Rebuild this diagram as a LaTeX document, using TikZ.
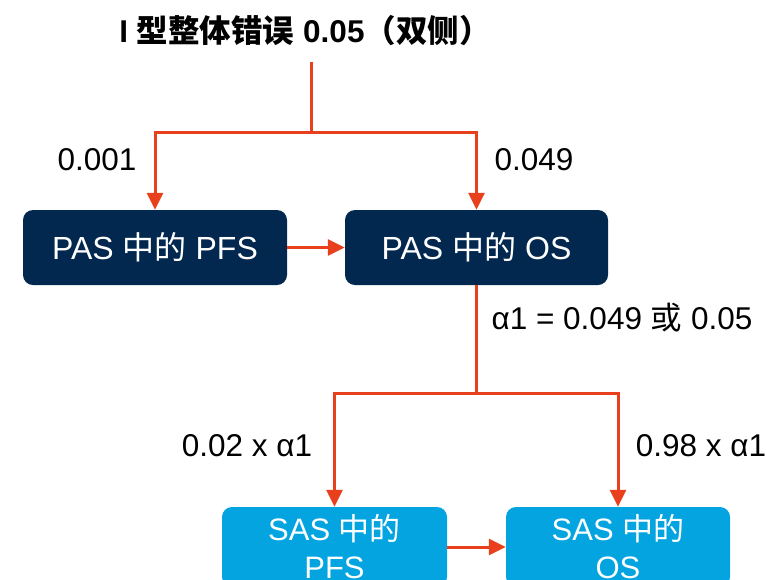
\documentclass[tikz,border=0pt]{standalone}
\usepackage{fontspec}
\setmainfont{Liberation Sans}
\newfontfamily\cjk{Noto Sans CJK SC}
\usetikzlibrary{arrows.meta}
\definecolor{navy}{HTML}{03284F}
\definecolor{lblue}{HTML}{03A4E0}
\definecolor{redline}{HTML}{E8401C}
\tikzset{
  darkbox/.style={draw=none, fill=navy, rounded corners=10pt, text=white, font=\fontsize{32}{36}\selectfont, inner sep=0pt},
  lightbox/.style={draw=none, fill=lblue, rounded corners=10pt, text=white, font=\fontsize{31}{38}\selectfont, inner sep=0pt, align=center},
  arr/.style={draw=redline, line width=3pt, -{Triangle[length=17pt,width=16pt]}},
  ln/.style={draw=redline, line width=3pt},
  lbl/.style={font=\fontsize{31.5}{36}\selectfont, inner sep=0pt}
}
\begin{document}
\begin{tikzpicture}[x=1pt,y=-1pt]
\clip (0,0) rectangle (767,579);
\useasboundingbox (0,0) rectangle (767,579);
\node[font=\fontsize{31.5}{36}\selectfont\bfseries, inner sep=0pt] (title) at (305,31) {I {\cjk\bfseries 型整体错误} 0.05{\cjk\bfseries （双侧）}};
\node[darkbox, minimum width=264pt, minimum height=75pt] (b1) at (155,247.5) {PAS {\cjk 中的} PFS};
\node[darkbox, minimum width=263pt, minimum height=75pt] (b2) at (476.5,247.5) {PAS {\cjk 中的} OS};
\node[lightbox, minimum width=225pt, minimum height=80pt] (b3) at (334.5,547) {SAS {\cjk 中的}\\PFS};
\node[lightbox, minimum width=224pt, minimum height=80pt] (b4) at (618,547) {SAS {\cjk 中的}\\OS};
\coordinate (t0) at (311,62);
\coordinate (t1) at (311,132);
\coordinate (m0) at (476.5,393);
\node[lbl] (l1) at (97,160) {0.001};
\node[lbl] (l2) at (534,160) {0.049};
\node[lbl] (l3) at (622,318) {α1 = 0.049 {\cjk 或} 0.05};
\node[lbl] (l4) at (247,446) {0.02 x α1};
\node[lbl] (l5) at (701,446) {0.98 x α1};
\draw[ln] (t0) -- (t1);
\draw[arr] (t1) -| (b1.north);
\draw[arr] (t1) -| (b2.north);
\draw[arr] (b1.east) -- (b2.west);
\draw[ln] (b2.south) -- (m0);
\draw[arr] (m0) -| (b3.north);
\draw[arr] (m0) -| (b4.north);
\draw[arr] (b3.east) -- (b4.west);
\end{tikzpicture}
\end{document}
